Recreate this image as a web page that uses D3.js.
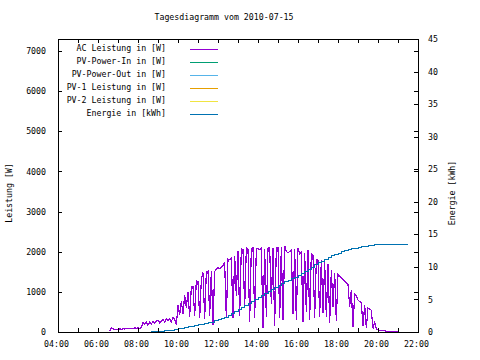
<!DOCTYPE html>
<html><head><meta charset="utf-8">
<script src="https://cdn.jsdelivr.net/npm/d3@7"></script>
<style>
html,body{margin:0;padding:0;background:#fff;}
svg text{font-family:"DejaVu Sans Mono",monospace;font-size:8.25px;fill:#000;}
</style></head>
<body><svg id="c" width="480" height="360"></svg>
<script>
// ---- data ----
const title = "Tagesdiagramm vom 2010-07-15";
const legendLabels = ["AC Leistung in [W]","PV-Power-In in [W]","PV-Power-Out in [W]","PV-1 Leistung in [W]","PV-2 Leistung in [W]","Energie in [kWh]"];
const legendColors = ["#9400d3","#009e73","#56b4e9","#e69f00","#f0e442","#0072b2"];
const xTickHours = [4,5,6,7,8,9,10,11,12,13,14,15,16,17,18,19,20,21,22];
const xTickLabels = ["04:00","","06:00","","08:00","","10:00","","12:00","","14:00","","16:00","","18:00","","20:00","","22:00"];
const yLeftTicks = [0,1000,2000,3000,4000,5000,6000,7000];
const yRightTicks = [0,5,10,15,20,25,30,35,40,45];

// AC power [W], sampled every 5 minutes starting 06:35
const acStartHour = 6 + 35/60;
const acStepMin = 5;
const acPower = [
  20,110,80,70,70,
  70,75,70,80,75,90,85,90,95,90,100,95,
  100,90,120,230,200,250,170,240,200,260,220,270,
  300,230,260,310,250,340,280,330,250,370,320,170,
  680,420,760,450,920,600,1000,380,1120,1130,400,1270,
  1250,350,1300,1480,330,1500,1520,400,1510,180,1500,1580,
  1600,1580,1620,1650,1730,350,1820,1800,1850,350,1900,900,
  2020,400,2080,2050,600,2090,2060,250,2080,2100,350,2070,
  2080,2050,2100,100,2060,370,2090,2100,700,2080,150,2100,
  2100,350,2110,300,2150,2000,1980,2000,2050,450,2060,300,
  2080,1950,2000,250,1980,500,2040,300,1950,1900,350,1800,
  1790,380,1800,470,1750,370,1700,220,1540,630,1480,280,
  1430,1390,1350,1300,1270,1230,1180,630,1050,120,950,900,
  800,760,720,150,670,100,600,570,540,90,260,70,
  50,45,40,35,30,20,20,15,15,10,10,5,
  0
];

// Energy [kWh], sampled every 10 minutes starting 07:00
const enStartHour = 7;
const enStepMin = 10;
const energy = [
  0.0,0.0,0.0,0.0,0.0,0.0,
  0.0,0.0,0.0,0.0,0.1,0.1,
  0.1,0.1,0.2,0.2,0.3,0.4,
  0.5,0.6,0.7,0.8,0.9,1.0,
  1.1,1.2,1.3,1.4,1.5,1.7,
  1.85,2.0,2.3,2.6,2.9,3.2,
  3.5,3.8,4.1,4.4,4.7,5.0,
  5.3,5.6,5.9,6.2,6.5,6.8,
  7.1,7.4,7.7,7.9,8.2,8.4,
  8.7,9.0,9.3,9.6,9.9,10.3,
  10.6,10.9,11.2,11.5,11.7,11.9,
  12.1,12.3,12.5,12.6,12.8,12.9,
  13.0,13.1,13.2,13.3,13.3,13.4,
  13.4,13.4,13.5,13.5,13.5,13.5,
  13.5,13.5,13.5,13.5
];

// ---- chart ----
const L = 58, R = 418, T = 39, B = 332;
const svg = d3.select("#c");
const x = d3.scaleLinear().domain([4,22]).range([L,R]);
const yL = d3.scaleLinear().domain([0,7300]).range([B,T]);
const yR = d3.scaleLinear().domain([0,45]).range([B,T]);

svg.append("text").attr("x",224).attr("y",20).attr("text-anchor","middle").text(title);

const acData = acPower.map((v,i)=>({h: acStartHour + i*acStepMin/60, v}));
const enData = energy.map((v,i)=>({h: enStartHour + i*enStepMin/60, v}));

svg.append("path").datum(acData)
  .attr("fill","none").attr("stroke",legendColors[0]).attr("stroke-width",1.2)
  .attr("shape-rendering","crispEdges")
  .attr("d", d3.line().x(d=>x(d.h)).y(d=>yL(d.v)));

svg.append("path").datum(enData)
  .attr("fill","none").attr("stroke",legendColors[5]).attr("stroke-width",1)
  .attr("shape-rendering","crispEdges")
  .attr("d", d3.line().curve(d3.curveStepAfter).x(d=>x(d.h)).y(d=>yR(d.v)));

// axes
function styleAxis(g){ g.select(".domain").remove(); g.selectAll("text").attr("font-size",null).attr("font-family",null); g.selectAll("line").attr("shape-rendering","crispEdges"); }
svg.append("g").attr("transform",`translate(0,${B})`)
  .call(d3.axisBottom(x).tickValues(xTickHours).tickSize(-4).tickPadding(9).tickFormat((d,i)=>xTickLabels[i]))
  .call(styleAxis).call(g=>g.selectAll("text").attr("dx","-2"));
svg.append("g").attr("transform",`translate(0,${T})`)
  .call(d3.axisTop(x).tickValues(xTickHours).tickSize(-4).tickFormat(""))
  .call(styleAxis);
svg.append("g").attr("transform",`translate(${L},0)`)
  .call(d3.axisLeft(yL).tickValues(yLeftTicks).tickSize(-4).tickPadding(12).tickFormat(d3.format("d")))
  .call(styleAxis);
svg.append("g").attr("transform",`translate(${R},0)`)
  .call(d3.axisRight(yL).tickValues(yLeftTicks).tickSize(-4).tickFormat(""))
  .call(styleAxis);
svg.append("g").attr("transform",`translate(${R},0)`)
  .call(d3.axisRight(yR).tickValues(yRightTicks).tickSize(-4).tickPadding(10).tickFormat(d3.format("d")))
  .call(styleAxis);

svg.append("rect").attr("x",L+0.5).attr("y",T+0.5).attr("width",R-L).attr("height",B-T)
  .attr("fill","none").attr("stroke","#000").attr("stroke-width",1).attr("shape-rendering","crispEdges");

// axis titles
svg.append("text").attr("transform","translate(12,193) rotate(-90)").attr("text-anchor","middle").text("Leistung [W]");
svg.append("text").attr("transform","translate(455,193) rotate(-90)").attr("text-anchor","middle").text("Energie [kWh]");

// legend
const lg = svg.append("g");
legendLabels.forEach((lab,i)=>{
  const yy = 49 + i*13;
  lg.append("text").attr("x",166).attr("y",yy+1.5).attr("text-anchor","end").text(lab);
  lg.append("line").attr("x1",190).attr("x2",218).attr("y1",yy+0.5).attr("y2",yy+0.5)
    .attr("stroke",legendColors[i]).attr("stroke-width",1).attr("shape-rendering","crispEdges");
});
</script></body></html>
